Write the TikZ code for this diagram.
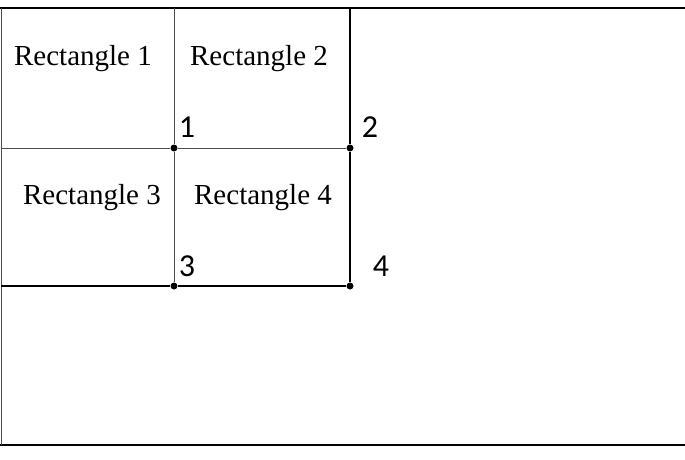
\documentclass[tikz,border=0pt]{standalone}
\usepackage{fontspec}
\setmainfont{Liberation Serif}
\newfontfamily\numfont{Carlito}
\begin{document}
\begin{tikzpicture}[x=1pt,y=-1pt,
  thinln/.style={draw=black!70,line width=0.8pt},
  thickln/.style={draw=black,line width=1.6pt},
  dot/.style={circle,fill=black,inner sep=0pt,minimum size=7pt},
  rlab/.style={font=\fontsize{29}{32}\selectfont},
  nlab/.style={font=\numfont\fontsize{32}{34}\selectfont}]
\useasboundingbox (0,0) rectangle (685,459);
\draw[thickln] (0,8) -- (685,8);
\draw[thickln] (0,445) -- (685,445);
\draw[thinln] (1,8) -- (1,445);
\node[dot] (p1) at (174,148) {};
\node[dot] (p2) at (350,148) {};
\node[dot] (p3) at (174,286) {};
\node[dot] (p4) at (350,286) {};
\coordinate (t1) at (174,8);
\coordinate (t2) at (350,8);
\coordinate (l1) at (1,148);
\coordinate (l2) at (1,286);
\draw[thinln] (t1) -- (p1) -- (p3);
\draw[thinln] (l1) -- (p1) -- (p2);
\draw[thickln] (t2) -- (p2) -- (p4);
\draw[thickln] (l2) -- (p3) -- (p4);
\node[rlab] (r1) at (83,59) {Rectangle 1};
\node[rlab] (r2) at (259,59) {Rectangle 2};
\node[rlab] (r3) at (92,198) {Rectangle 3};
\node[rlab] (r4) at (263,198) {Rectangle 4};
\node[nlab] (n1) at (187,127) {1};
\node[nlab] (n2) at (370,127) {2};
\node[nlab] (n3) at (187,266) {3};
\node[nlab] (n4) at (381,266) {4};
\end{tikzpicture}
\end{document}
